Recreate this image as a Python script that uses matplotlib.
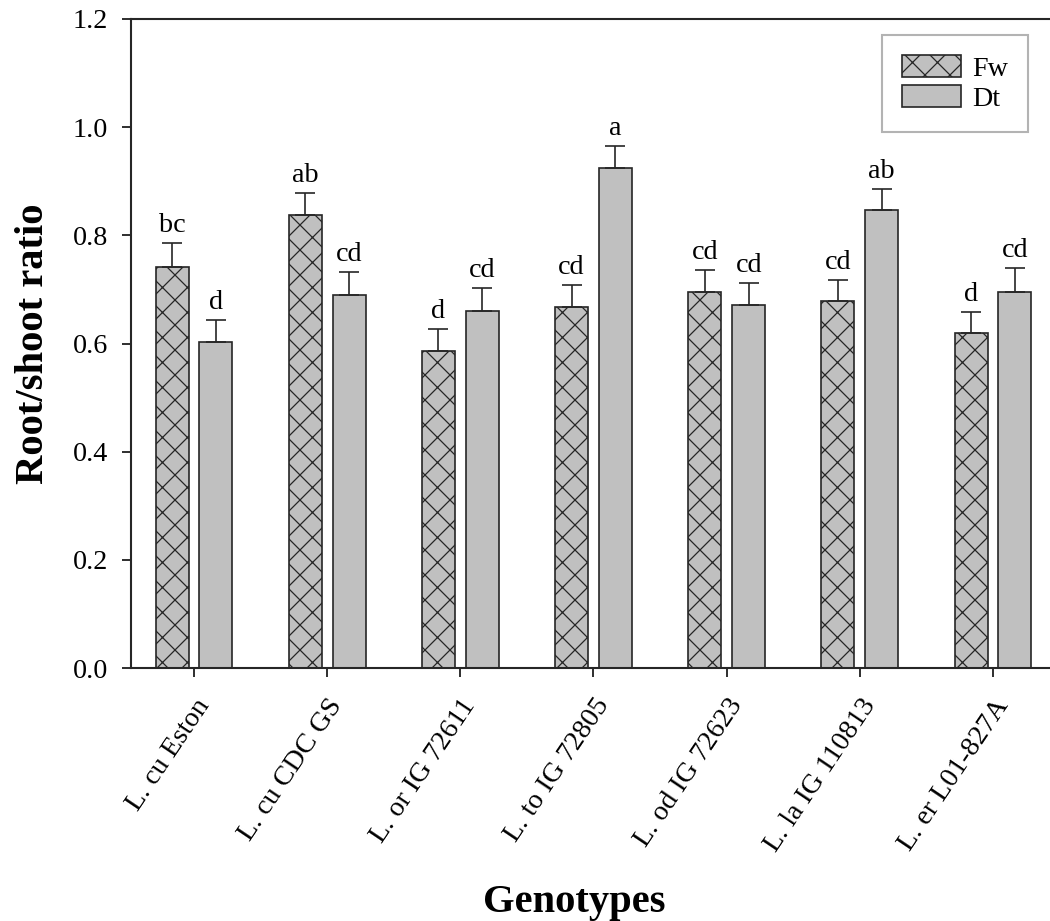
import numpy as np
import matplotlib
matplotlib.use("Agg")
import matplotlib.pyplot as plt

# Root/shoot ratio per genotype under the two treatments
genotypes = ["L. cu Eston", "L. cu CDC GS", "L. or IG 72611", "L. to IG 72805",
             "L. od IG 72623", "L. la IG 110813", "L. er L01-827A"]
fw_mean = [0.742, 0.838, 0.587, 0.668, 0.696, 0.678, 0.619]
fw_err = [0.043, 0.041, 0.039, 0.041, 0.039, 0.039, 0.040]
dt_mean = [0.603, 0.689, 0.661, 0.925, 0.672, 0.846, 0.696]
dt_err = [0.040, 0.043, 0.041, 0.041, 0.039, 0.039, 0.043]
fw_letters = ["bc", "ab", "d", "cd", "cd", "cd", "d"]
dt_letters = ["d", "cd", "cd", "a", "cd", "ab", "cd"]

plt.rcParams['font.family'] = ['Liberation Serif', 'DejaVu Serif']
plt.rcParams['hatch.linewidth'] = 0.6
plt.rcParams['hatch.color'] = '#262626'

fig = plt.figure(figsize=(7, 6.14), dpi=150)
ax = fig.add_axes([131/1050, 1 - 668/921, 1 - 131/1050, (668 - 19)/921])

x = np.arange(len(genotypes))
w = 0.248
off = 0.165
ekw = dict(ecolor='#262626', elinewidth=0.8, capsize=4.8, capthick=0.8)

ax.bar(x - off, fw_mean, w, color='#c0c0c0', edgecolor='#262626', linewidth=0.8,
       hatch='xx', label='Fw',
       yerr=[np.zeros(len(fw_err)), fw_err], error_kw=ekw)
ax.bar(x + off, dt_mean, w, color='#c0c0c0', edgecolor='#262626', linewidth=0.8,
       label='Dt',
       yerr=[np.zeros(len(dt_err)), dt_err], error_kw=ekw)

# significance letters above the error bars
for xi, m, e, t in zip(x - off, fw_mean, fw_err, fw_letters):
    ax.annotate(t, (xi, m + e), xytext=(0, 5.3), textcoords='offset points',
                ha='center', va='baseline', fontsize=13.5)
for xi, m, e, t in zip(x + off, dt_mean, dt_err, dt_letters):
    ax.annotate(t, (xi, m + e), xytext=(0, 5.3), textcoords='offset points',
                ha='center', va='baseline', fontsize=13.5)

ax.set_xlim(-0.473, 6.428)
ax.set_ylim(0, 1.2)
ax.set_yticks(np.arange(0, 1.21, 0.2))
ax.set_yticklabels([f"{v:.1f}" for v in np.arange(0, 1.21, 0.2)])
ax.set_xticks(x)
ax.set_xticklabels(genotypes, rotation=56, ha='right', rotation_mode='anchor')

ax.spines['right'].set_visible(False)
for s in ['left', 'bottom', 'top']:
    ax.spines[s].set_linewidth(1.0)
    ax.spines[s].set_color('#262626')
ax.tick_params(direction='out', length=4.5, width=0.9, color='#262626',
               labelsize=13.5, pad=6.5)
ax.tick_params(axis='x', pad=8)

ax.set_ylabel('Root/shoot ratio', fontsize=19.5, fontweight='bold', labelpad=10)
fig.text(574/1050, 1 - 912/921, 'Genotypes', ha='center', va='baseline',
         fontsize=19.5, fontweight='bold')

leg = ax.legend(loc='upper right', bbox_to_anchor=(1028/1050, 1 - 35/921),
                bbox_transform=fig.transFigure, borderaxespad=0, fancybox=False,
                fontsize=13.5, handlelength=2.1, handleheight=0.85,
                handletextpad=0.4, labelspacing=0.12, borderpad=0.7)
leg.get_frame().set_edgecolor('#a0a0a0')
leg.get_frame().set_linewidth(1.0)

fig.savefig('out.png', dpi=150)
